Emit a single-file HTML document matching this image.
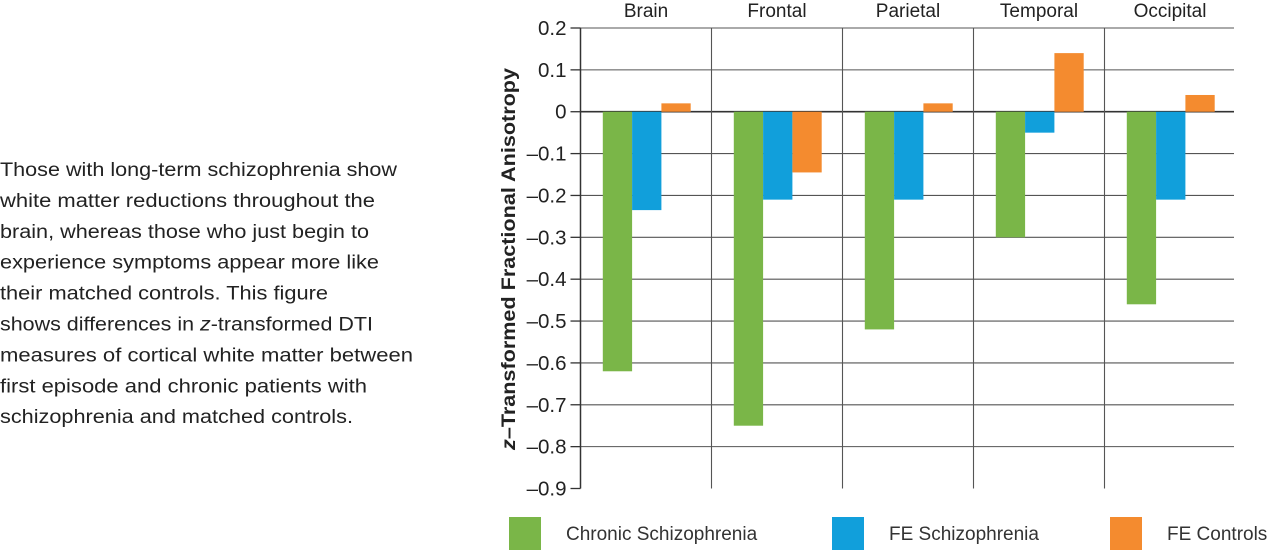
<!DOCTYPE html>
<html><head><meta charset="utf-8"><style>
html,body{margin:0;padding:0;background:#fff;width:1275px;height:551px;overflow:hidden}
svg{display:block;font-family:"Liberation Sans",Arial,sans-serif}
</style></head><body>
<svg id="chart" width="1275" height="551" viewBox="0 0 1275 551">
<g id="caption" font-size="19" fill="#222"></g>
<g id="grid"></g>
<g id="bars"></g>
<g id="axis"></g>
<g id="cats"></g>
<text transform="translate(515,259) rotate(-90)" text-anchor="middle" font-size="19" font-weight="bold" fill="#222" textLength="382" lengthAdjust="spacingAndGlyphs"><tspan font-style="italic">z</tspan>–Transformed Fractional Anisotropy</text>
<g id="legend"></g>
</svg>
<script>
const categories = ["Brain","Frontal","Parietal","Temporal","Occipital"];
const chronic = [-0.62,-0.75,-0.52,-0.30,-0.46];
const feSchiz = [-0.235,-0.21,-0.21,-0.05,-0.21];
const feControls = [0.02,-0.145,0.02,0.14,0.04];
const yTicks = [0.2,0.1,0,-0.1,-0.2,-0.3,-0.4,-0.5,-0.6,-0.7,-0.8,-0.9];
const seriesNames = ["Chronic Schizophrenia","FE Schizophrenia","FE Controls"];
const colors = ["#7ab648","#119fdb","#f48b2f"];
const captionLines = ["Those with long-term schizophrenia show","white matter reductions throughout the","brain, whereas those who just begin to","experience symptoms appear more like","their matched controls. This figure","shows differences in |z|-transformed DTI","measures of cortical white matter between","first episode and chronic patients with","schizophrenia and matched controls."];
const captionWidths = [397,375,369,379,328,373,413,367,353];

const NS="http://www.w3.org/2000/svg";
function mk(tag,attrs,parent){const e=document.createElementNS(NS,tag);for(const k in attrs)e.setAttribute(k,attrs[k]);parent.appendChild(e);return e;}
const x0=580.5, gw=131, yTop=0.2, yBot=-0.9, pxTop=28, pxBot=488.5, xRight=1234;
const y=v=>pxTop+(yTop-v)/(yTop-yBot)*(pxBot-pxTop);
const gx=i=>x0+i*gw;
const bw=29.3, boff=22.3;

const cap=document.getElementById('caption');
captionLines.forEach((l,i)=>{
  const t=mk('text',{x:0,y:176+i*30.9,textLength:captionWidths[i],lengthAdjust:'spacingAndGlyphs'},cap);
  
  
  l.split('|').forEach((p,j)=>{const s=mk('tspan',{},t);s.textContent=p;if(j===1)s.setAttribute('font-style','italic');});
});

const grid=document.getElementById('grid');
yTicks.forEach(v=>{
  if(v===yBot) return;
  const l=mk('line',{x1:x0,x2:xRight,y1:y(v),y2:y(v),stroke:v===0?'#333':'#555','stroke-width':v===0?1.6:1.1},grid);
  
  
});
for(let i=1;i<categories.length;i++){
  const l=mk('line',{x1:gx(i),x2:gx(i),y1:y(yTop),y2:y(yBot),stroke:'#555','stroke-width':1.1},grid);
  
  
}

const bars=document.getElementById('bars');
const series=[chronic,feSchiz,feControls];
series.forEach((arr,s)=>{
  arr.forEach((v,i)=>{
    const x=gx(i)+boff+s*bw;
    const r=mk('rect',{x:x,y:Math.min(y(v),y(0)),width:bw,height:Math.abs(y(v)-y(0)),fill:colors[s]},bars);
    
    
  });
});

const ax=document.getElementById('axis');
mk('line',{x1:x0,x2:x0,y1:y(yTop),y2:y(yBot),stroke:'#333','stroke-width':1.5},ax);
yTicks.forEach(v=>{
  mk('line',{x1:x0-10,x2:x0,y1:y(v),y2:y(v),stroke:'#333','stroke-width':1.3},ax);
  const t=mk('text',{x:x0-14,y:y(v)+7,'text-anchor':'end','font-size':20.5,fill:'#222'},ax);
  
  
  t.textContent=v===0?'0':(v<0?'–'+Math.abs(v).toFixed(1):v.toFixed(1));
});

const cats=document.getElementById('cats');
categories.forEach((c,i)=>{
  const t=mk('text',{x:gx(i)+gw/2,y:17,'text-anchor':'middle','font-size':19,fill:'#222'},cats);
  
  
  t.textContent=c;
});

const lg=document.getElementById('legend');
const lx=[509,832,1110];
seriesNames.forEach((n,s)=>{
  const g=mk('g',{},lg);
  
  
  mk('rect',{x:lx[s],y:517,width:32,height:33,fill:colors[s]},g);
  const t=mk('text',{x:lx[s]+57,y:540,'font-size':19,fill:'#333'},g);
  t.textContent=n;
});
</script>
</body></html>
